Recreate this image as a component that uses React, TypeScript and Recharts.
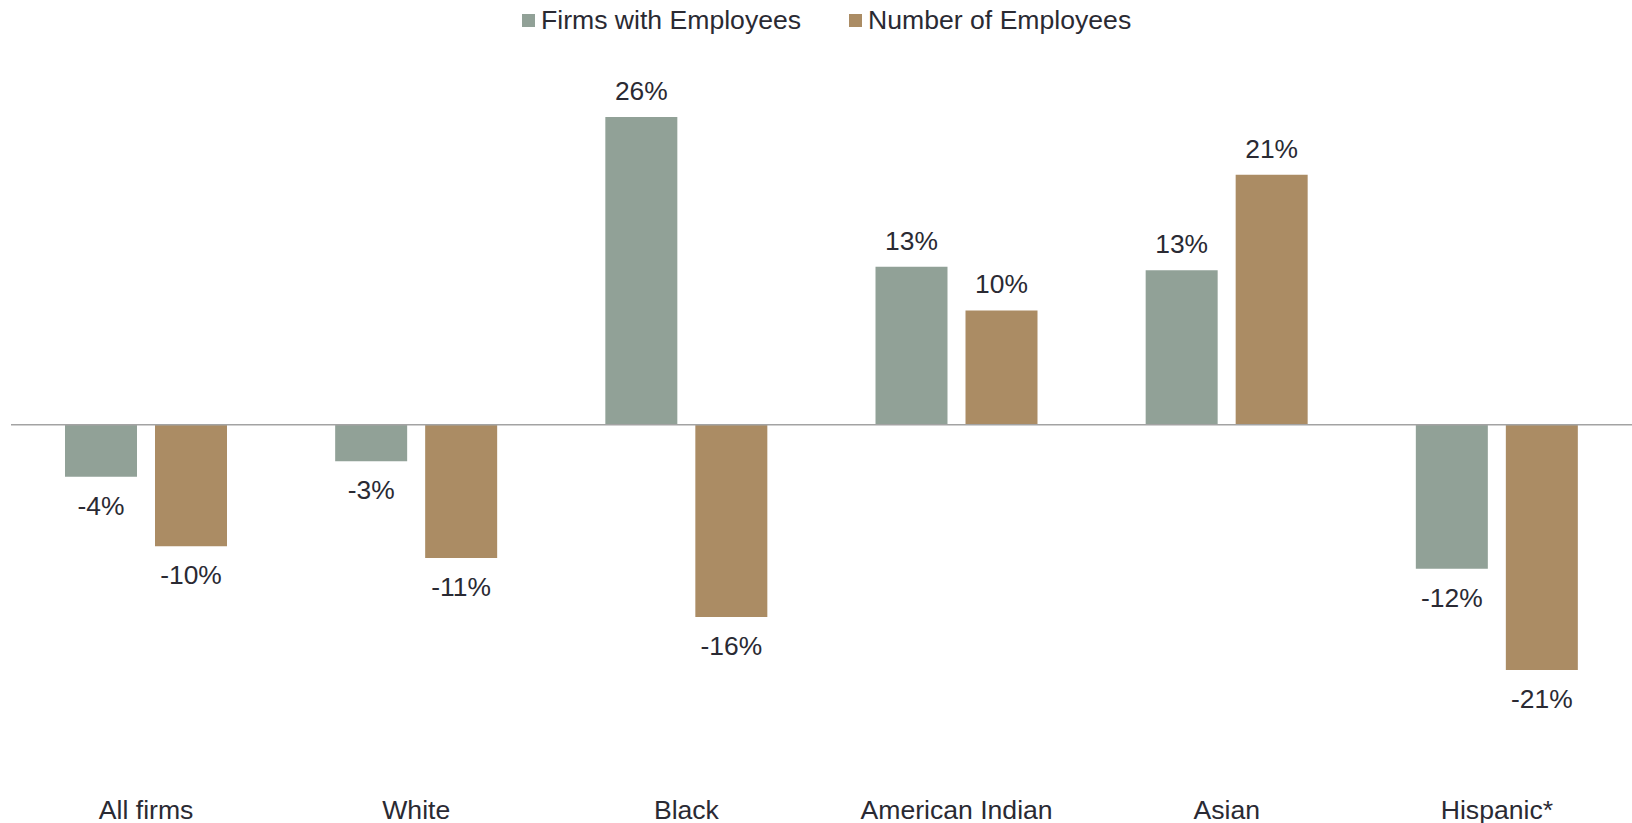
import React from "react";
import { BarChart, Bar, XAxis, YAxis, ReferenceLine, LabelList } from "recharts";

const categories = ["All firms", "White", "Black", "American Indian", "Asian", "Hispanic*"];
const firmsWithEmployees = [-4.4, -3.1, 26.1, 13.4, 13.1, -12.2];
const numberOfEmployees = [-10.3, -11.3, -16.3, 9.7, 21.2, -20.8];
const seriesNames = ["Firms with Employees", "Number of Employees"];

const data = categories.map((c, i) => ({
  name: c,
  firms: firmsWithEmployees[i],
  employees: numberOfEmployees[i],
}));

const FIRMS_COLOR = "#91A197";
const EMP_COLOR = "#AB8C64";
const TEXT_COLOR = "#2a2a33";
const FONT = "'Liberation Sans', Arial, sans-serif";
const FS = 26.4;

const ValueLabel = (props: any) => {
  const { x, y, width, height, value } = props;
  const v = Number(value);
  const top = Math.min(y, y + height);
  const bottom = Math.max(y, y + height);
  const ty = v >= 0 ? top - 26 : bottom + 29;
  return (
    <text
      x={x + width / 2}
      y={ty}
      textAnchor="middle"
      dominantBaseline="central"
      fill={TEXT_COLOR}
      fontSize={FS}
      fontFamily={FONT}
    >
      {Math.round(v) + "%"}
    </text>
  );
};

const CatTick = (props: any) => {
  const { x, y, payload } = props;
  return (
    <text
      x={x}
      y={y + 47}
      textAnchor="middle"
      dominantBaseline="central"
      fill={TEXT_COLOR}
      fontSize={26.6}
      fontFamily={FONT}
    >
      {payload.value}
    </text>
  );
};

export default function App() {
  return (
    <div style={{ position: "absolute", left: 0, top: 0, width: 1632, height: 823, background: "#fff" }}>
      <div
        style={{
          position: "absolute",
          left: 522,
          top: 0,
          height: 40,
          display: "flex",
          alignItems: "center",
          fontFamily: FONT,
          fontSize: 26.6,
          color: TEXT_COLOR,
          whiteSpace: "nowrap",
        }}
      >
        <span style={{ width: 13, height: 13, background: FIRMS_COLOR, display: "inline-block", marginRight: 6 }} />
        <span style={{ marginRight: 48 }}>{seriesNames[0]}</span>
        <span style={{ width: 13, height: 13, background: EMP_COLOR, display: "inline-block", marginRight: 6 }} />
        <span>{seriesNames[1]}</span>
      </div>
      <BarChart
        width={1632}
        height={823}
        data={data}
        margin={{ top: 71, right: 0, bottom: 8, left: 11 }}
        barGap={18}
        barSize={72}
      >
        <XAxis dataKey="name" axisLine={false} tickLine={false} height={60} tick={<CatTick />} interval={0} />
        <YAxis hide domain={[-28, 30]} />
        <Bar dataKey="firms" fill={FIRMS_COLOR} isAnimationActive={false}>
          <LabelList dataKey="firms" content={<ValueLabel />} />
        </Bar>
        <Bar dataKey="employees" fill={EMP_COLOR} isAnimationActive={false}>
          <LabelList dataKey="employees" content={<ValueLabel />} />
        </Bar>
        <ReferenceLine y={0} stroke="#A3A3A3" strokeWidth={1.5} />
      </BarChart>
    </div>
  );
}
